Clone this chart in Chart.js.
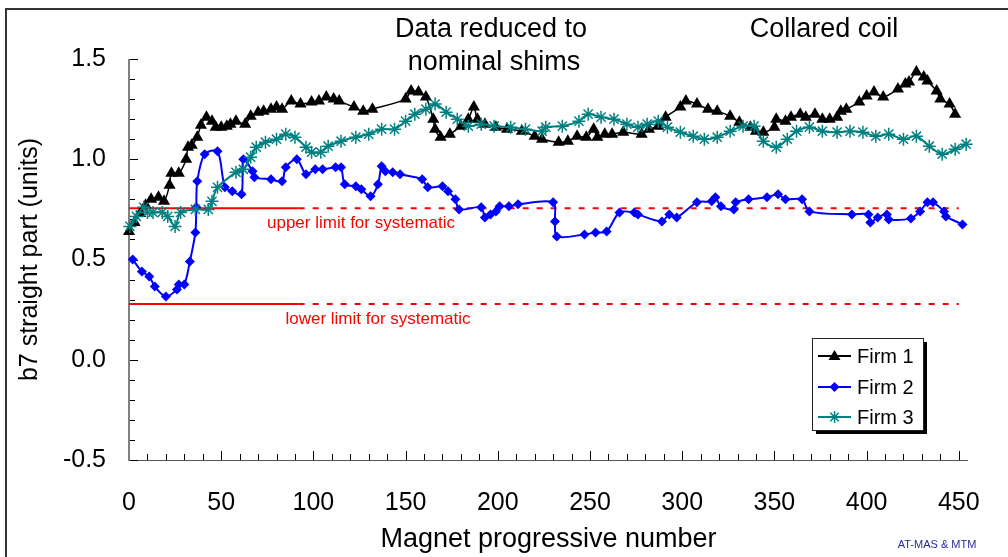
<!DOCTYPE html>
<html>
<head>
  <title>b7 straight part - collared coil</title>
  <style>
    body { margin: 0; background: #fff; }
    #chart-container { width: 1008px; height: 557px; }
  </style>
</head>
<body>
  <div id="chart-container">
    <canvas id="b7-chart" width="1008" height="557"></canvas>
  </div>

  <script src="https://cdn.jsdelivr.net/npm/chart.js"></script>
  <script>
    // Firm 1 (black triangles)
    const firm1X = [0, 3, 6, 9, 12, 16, 19, 22, 23, 27, 31, 32, 34, 37, 39, 42, 45, 47, 50, 53,
      55, 58, 63, 66, 70, 73, 77, 80, 83, 88, 93, 99, 103, 107, 111, 114, 122, 127, 132, 150,
      153, 157, 161, 165, 166, 169, 174, 180, 184, 187, 189, 193, 199, 205, 213, 220, 224, 233, 238, 243,
      248, 252, 254, 258, 262, 268, 278, 282, 287, 291, 299, 302, 308, 314, 319, 326, 331, 337, 340, 344,
      350, 351, 356, 359, 364, 367, 372, 376, 380, 384, 386, 389, 396, 400, 404, 409, 417, 421, 423, 427,
      431, 433, 438, 440, 445, 448];
    const firm1Y = [0.64, 0.685, 0.73, 0.77, 0.80, 0.81, 0.79, 0.87, 0.93, 0.93, 1.0, 1.06, 1.07, 1.11, 1.17, 1.21, 1.19, 1.16, 1.16, 1.165,
      1.175, 1.19, 1.175, 1.215, 1.235, 1.24, 1.25, 1.26, 1.25, 1.29, 1.275, 1.285, 1.29, 1.31, 1.30, 1.29, 1.26, 1.24, 1.25, 1.30,
      1.34, 1.335, 1.31, 1.20, 1.15, 1.11, 1.125, 1.165, 1.20, 1.26, 1.20, 1.175, 1.16, 1.15, 1.14, 1.115, 1.10, 1.085, 1.09, 1.115,
      1.11, 1.15, 1.11, 1.125, 1.125, 1.135, 1.125, 1.15, 1.165, 1.21, 1.26, 1.29, 1.275, 1.25, 1.24, 1.215, 1.185, 1.16, 1.14, 1.135,
      1.16, 1.20, 1.19, 1.21, 1.225, 1.21, 1.225, 1.20, 1.20, 1.21, 1.24, 1.25, 1.285, 1.315, 1.335, 1.31, 1.35, 1.375, 1.385, 1.435,
      1.41, 1.39, 1.34, 1.30, 1.275, 1.225];

    // Firm 2 (blue diamonds)
    const firm2X = [2, 7, 11, 14, 20, 26, 27, 30, 33, 36, 36.5, 37, 41, 48, 52, 56, 61, 62, 67, 68,
      77, 83, 85, 91, 96, 101, 105, 112, 115, 117, 123, 126, 131, 135, 137, 139, 143, 147, 159, 162,
      170, 173, 177, 179, 191, 193, 196, 199, 201, 206, 211, 230, 231, 232, 247, 253, 259, 266, 274, 276,
      289, 293, 297, 308, 316, 318, 321, 328, 329, 336, 346, 352, 356, 365, 369, 392, 401, 402, 406, 411,
      412, 424, 429, 433, 436, 442, 443, 452];
    const firm2Y = [0.50, 0.44, 0.415, 0.365, 0.315, 0.35, 0.375, 0.375, 0.49, 0.635, 0.76, 0.89, 1.025, 1.04, 0.86, 0.84, 0.825, 1.0, 0.94, 0.91,
      0.90, 0.89, 0.96, 1.0, 0.925, 0.95, 0.95, 0.96, 0.96, 0.875, 0.865, 0.85, 0.815, 0.875, 0.965, 0.94, 0.935, 0.925, 0.90, 0.86,
      0.865, 0.84, 0.80, 0.75, 0.76, 0.71, 0.725, 0.74, 0.765, 0.765, 0.775, 0.785, 0.69, 0.615, 0.625, 0.635, 0.64, 0.735, 0.735, 0.725,
      0.69, 0.725, 0.71, 0.785, 0.79, 0.81, 0.765, 0.75, 0.785, 0.80, 0.81, 0.825, 0.80, 0.80, 0.74, 0.725, 0.725, 0.685, 0.71, 0.725,
      0.70, 0.705, 0.74, 0.785, 0.785, 0.74, 0.715, 0.675];

    // Firm 3 (teal stars)
    const firm3X = [0.5, 4, 8, 10, 13, 18, 21, 25, 28, 36, 43, 45, 48, 58, 62, 66, 69, 74, 80, 85,
      90, 96, 99, 104, 108, 115, 123, 130, 137, 144, 150, 155, 161, 166, 172, 178, 184, 191, 198, 207,
      215, 224, 226, 235, 244, 249, 256, 263, 270, 276, 281, 287, 292, 299, 306, 312, 319, 326, 333, 339,
      344, 351, 357, 362, 369, 376, 384, 391, 398, 405, 412, 420, 427, 434, 441, 448, 454];
    const firm3Y = [0.665, 0.715, 0.76, 0.735, 0.735, 0.735, 0.715, 0.665, 0.735, 0.75, 0.75, 0.79, 0.86, 0.935, 0.95, 1.01, 1.06, 1.085, 1.10, 1.125,
      1.11, 1.06, 1.035, 1.035, 1.065, 1.09, 1.11, 1.125, 1.15, 1.15, 1.19, 1.225, 1.25, 1.275, 1.235, 1.20, 1.165, 1.175, 1.165, 1.16,
      1.15, 1.14, 1.16, 1.165, 1.19, 1.225, 1.21, 1.20, 1.175, 1.16, 1.175, 1.19, 1.16, 1.135, 1.115, 1.10, 1.11, 1.14, 1.165, 1.165,
      1.09, 1.06, 1.10, 1.14, 1.16, 1.14, 1.135, 1.14, 1.135, 1.115, 1.125, 1.10, 1.115, 1.065, 1.025, 1.05, 1.075];

    // limits for systematic (solid up to the first block, dashed after)
    const upperLimit = 0.755;
    const lowerLimit = 0.278;
    const limitSolidX = [0, 92];
    const limitDashX = [92, 450];

    // axes
    const xMin = 0, xMax = 455;
    const yMin = -0.5, yMax = 1.5;
    const xTickLabels = [0, 50, 100, 150, 200, 250, 300, 350, 400, 450];
    const yTickLabels = ['-0.5', '0.0', '0.5', '1.0', '1.5'];

    const FONT = "'Liberation Sans', Arial, sans-serif";

    function toPoints(xs, ys) {
      return xs.map((x, i) => ({ x: x, y: ys[i] }));
    }

    // marker shapes, used for the legend
    function drawMarker(ctx, style, x, y, color) {
      ctx.save();
      ctx.fillStyle = color;
      ctx.strokeStyle = color;
      if (style === 'triangle') {
        ctx.beginPath();
        ctx.moveTo(x, y - 6);
        ctx.lineTo(x + 6, y + 4);
        ctx.lineTo(x - 6, y + 4);
        ctx.closePath();
        ctx.fill();
      } else if (style === 'rectRot') {
        ctx.beginPath();
        ctx.moveTo(x, y - 5);
        ctx.lineTo(x + 5, y);
        ctx.lineTo(x, y + 5);
        ctx.lineTo(x - 5, y);
        ctx.closePath();
        ctx.fill();
      } else {
        ctx.lineWidth = 1.5;
        ctx.beginPath();
        for (let a = 0; a < 4; a++) {
          const r = a * Math.PI / 4;
          ctx.moveTo(x - 6 * Math.cos(r), y - 6 * Math.sin(r));
          ctx.lineTo(x + 6 * Math.cos(r), y + 6 * Math.sin(r));
        }
        ctx.stroke();
      }
      ctx.restore();
    }

    // frame, axis lines with inside ticks, texts and legend
    const decorations = {
      id: 'decorations',
      beforeDatasetsDraw(chart) {
        const ctx = chart.ctx;
        const xs = chart.scales.x, ys = chart.scales.y;
        const area = chart.chartArea;
        ctx.save();
        // outer frame
        ctx.strokeStyle = '#333';
        ctx.lineWidth = 2;
        ctx.beginPath();
        ctx.moveTo(1008, 9);
        ctx.lineTo(6, 9);
        ctx.lineTo(6, 557);
        ctx.stroke();

        // x axis
        ctx.strokeStyle = '#555';
        ctx.lineWidth = 1;
        ctx.beginPath();
        ctx.moveTo(area.left, area.bottom + 0.5);
        ctx.lineTo(area.right, area.bottom + 0.5);
        ctx.stroke();
        ctx.strokeStyle = '#000';
        ctx.beginPath();
        for (let v = xMin; v <= 450; v += 10) {
          const px = Math.round(xs.getPixelForValue(v)) + 0.5;
          const len = v % 50 === 0 ? 9 : 6;
          ctx.moveTo(px, area.bottom);
          ctx.lineTo(px, area.bottom - len);
        }
        // y ticks
        for (let i = 0; i <= 20; i++) {
          const v = yMin + i * 0.1;
          const py = Math.round(ys.getPixelForValue(v)) + 0.5;
          const len = i % 5 === 0 ? 9 : 6;
          ctx.moveTo(area.left, py);
          ctx.lineTo(area.left + len, py);
        }
        ctx.stroke();

        // y axis
        ctx.strokeStyle = '#808080';
        ctx.lineWidth = 2;
        ctx.beginPath();
        ctx.moveTo(area.left, area.top);
        ctx.lineTo(area.left, area.bottom + 1);
        ctx.stroke();

        // limit labels
        ctx.fillStyle = '#ff0000';
        ctx.font = '17px ' + FONT;
        ctx.textAlign = 'center';
        ctx.textBaseline = 'middle';
        ctx.fillText('upper limit for systematic', 361, 223);
        ctx.fillText('lower limit for systematic', 378, 319);
        ctx.restore();
      },
      afterDraw(chart) {
        const ctx = chart.ctx;
        ctx.save();
        ctx.fillStyle = '#000';
        ctx.font = '27px ' + FONT;
        ctx.textAlign = 'center';
        ctx.textBaseline = 'middle';
        ctx.fillText('Data reduced to', 491, 30);
        ctx.fillText('nominal shims', 494, 63);
        ctx.fillText('Collared coil', 824, 30);

        ctx.fillStyle = '#2a2a9a';
        ctx.font = '11px ' + FONT;
        ctx.fillText('AT-MAS & MTM', 937, 545);

        // legend box with shadow
        const lx = 812, ly = 338, lw = 111, lh = 92;
        ctx.fillStyle = '#000';
        ctx.fillRect(lx + 4, ly + 4, lw, lh);
        ctx.fillStyle = '#fff';
        ctx.fillRect(lx, ly, lw, lh);
        ctx.strokeStyle = '#222';
        ctx.lineWidth = 1;
        ctx.strokeRect(lx + 0.5, ly + 0.5, lw, lh);

        const rows = [356, 387, 417];
        const firms = chart.data.datasets.filter(d => d.label.startsWith('Firm'));
        firms.forEach((ds, i) => {
          const y = rows[i];
          ctx.strokeStyle = ds.borderColor;
          ctx.lineWidth = 2;
          ctx.beginPath();
          ctx.moveTo(818, y);
          ctx.lineTo(851, y);
          ctx.stroke();
          drawMarker(ctx, ds.pointStyle, 834.5, y, ds.borderColor);
          ctx.fillStyle = '#000';
          ctx.font = '20px ' + FONT;
          ctx.textAlign = 'left';
          ctx.fillText(ds.label, 857, y + 1);
        });
        ctx.restore();
      }
    };

    function limitDataset(label, xs, value, dashed) {
      return {
        label: label,
        data: xs.map(x => ({ x: x, y: value })),
        borderColor: '#ff0000',
        borderWidth: 2,
        borderDash: dashed ? [6, 8] : [],
        pointRadius: 0,
        tension: 0,
        order: 10
      };
    }

    const ctx = document.getElementById('b7-chart').getContext('2d');
    new Chart(ctx, {
      type: 'line',
      data: {
        datasets: [
          {
            label: 'Firm 1',
            data: toPoints(firm1X, firm1Y),
            borderColor: '#000000',
            backgroundColor: '#000000',
            borderWidth: 1.5,
            pointStyle: 'triangle',
            pointRadius: 7,
            pointBorderWidth: 0,
            tension: 0.3,
            clip: false,
            order: 2
          },
          {
            label: 'Firm 2',
            data: toPoints(firm2X, firm2Y),
            borderColor: '#0000ff',
            backgroundColor: '#0000ff',
            borderWidth: 2,
            pointStyle: 'rectRot',
            pointRadius: 5,
            pointBorderWidth: 0,
            tension: 0.3,
            clip: false,
            order: 1
          },
          {
            label: 'Firm 3',
            data: toPoints(firm3X, firm3Y),
            borderColor: '#008080',
            backgroundColor: '#008080',
            borderWidth: 2,
            pointStyle: 'star',
            pointRadius: 6.5,
            pointBorderWidth: 1.5,
            tension: 0.3,
            clip: false,
            order: 0
          },
          limitDataset('upper solid', limitSolidX, upperLimit, false),
          limitDataset('upper dashed', limitDashX, upperLimit, true),
          limitDataset('lower solid', limitSolidX, lowerLimit, false),
          limitDataset('lower dashed', limitDashX, lowerLimit, true)
        ]
      },
      options: {
        responsive: false,
        animation: false,
        devicePixelRatio: 1,
        layout: { padding: { left: 0, top: 59, right: 31, bottom: 0 } },
        plugins: {
          legend: { display: false },
          tooltip: { enabled: false }
        },
        scales: {
          x: {
            type: 'linear',
            min: xMin,
            max: xMax,
            grid: { display: false, drawTicks: false },
            border: { display: false },
            afterFit: s => { s.height = 97; },
            afterBuildTicks: s => { s.ticks = xTickLabels.map(v => ({ value: v })); },
            ticks: {
              padding: 28,
              maxRotation: 0,
              color: '#000',
              font: { family: FONT, size: 25 }
            },
            title: {
              display: true,
              text: 'Magnet progressive number',
              color: '#000',
              font: { family: FONT, size: 27 },
              padding: { top: 0, bottom: 1 }
            }
          },
          y: {
            type: 'linear',
            min: yMin,
            max: yMax,
            grid: { display: false, drawTicks: false },
            border: { display: false },
            afterFit: s => { s.width = 129; },
            afterBuildTicks: s => { s.ticks = yTickLabels.map(v => ({ value: parseFloat(v) })); },
            ticks: {
              padding: 23,
              color: '#000',
              font: { family: FONT, size: 25 },
              callback: v => v.toFixed(1)
            },
            title: {
              display: true,
              text: 'b7 straight part (units)',
              color: '#000',
              font: { family: FONT, size: 25 },
              padding: { top: 15, bottom: 0 }
            }
          }
        }
      },
      plugins: [decorations]
    });
  </script>
</body>
</html>
